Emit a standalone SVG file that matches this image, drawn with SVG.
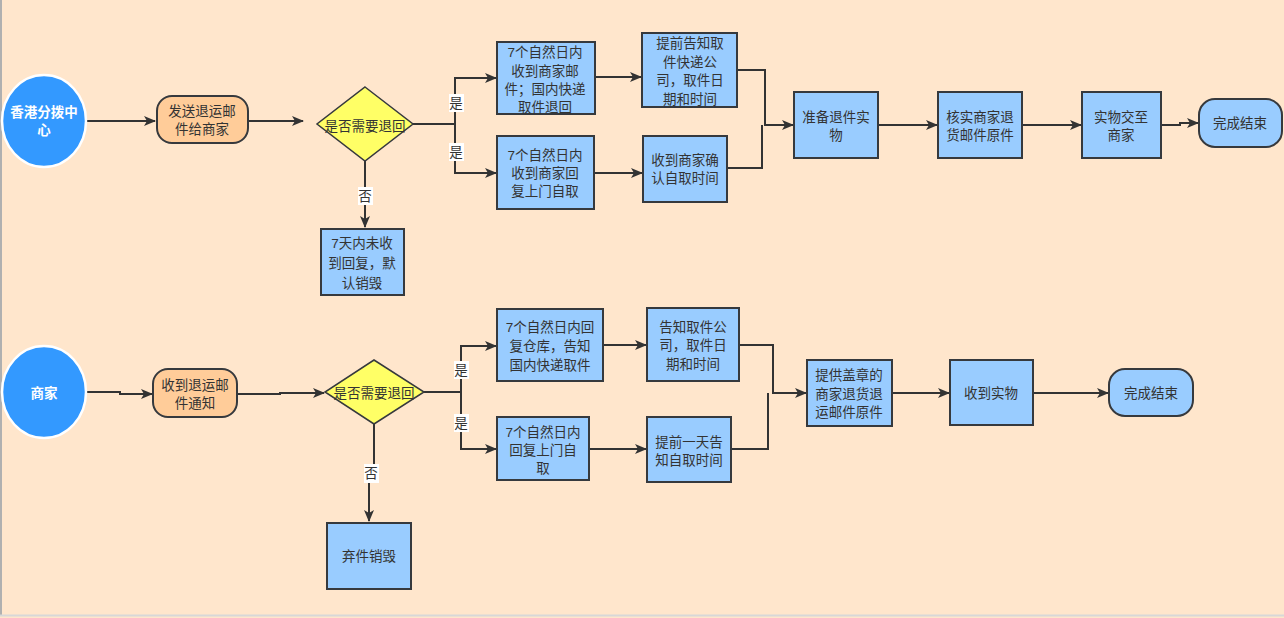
<svg xmlns="http://www.w3.org/2000/svg" width="1284" height="618" viewBox="0 0 1284 618">
<style>
.bg{fill:#FFE6CC}
.box{fill:#99CCFF;stroke:#36393D;stroke-width:2}
.term{fill:#99CCFF;stroke:#36393D;stroke-width:2}
.start{fill:#FFCC99;stroke:#36393D;stroke-width:2}
.dia{fill:#FFFF66;stroke:#36393D;stroke-width:1.5}
.circ{fill:#3399FF;stroke:#FFFFFF;stroke-width:2.5}
.edge{fill:none;stroke:#333333;stroke-width:2}
.lbl{fill:#FFFFFF}
text{font-family:"Liberation Sans","Noto Sans CJK SC",sans-serif;font-size:13.5px;fill:#333333;text-anchor:middle;dominant-baseline:central}
.wt{fill:#FFFFFF;font-weight:bold}
</style>
<defs>
<marker id="arr" markerWidth="12" markerHeight="10" refX="11" refY="5" orient="auto" markerUnits="userSpaceOnUse">
<path d="M0,0 L12,5 L0,10 L3,5 Z" fill="#333333"/>
</marker>
</defs>
<rect class="bg" x="0" y="0" width="1284" height="618"/>
<line x1="1" y1="0" x2="1" y2="616" stroke="#B0B0B0" stroke-width="2"/>
<line x1="0" y1="615.5" x2="1284" y2="615.5" stroke="#D8D8D8" stroke-width="2"/>

<g id="connectors">
<path class="edge" d="M86,121 H155" marker-end="url(#arr)"/>
<path class="edge" d="M248,121 H303" marker-end="url(#arr)"/>
<path class="edge" d="M413,124 H455 V78 H496" marker-end="url(#arr)"/>
<path class="edge" d="M455,124 V173 H496" marker-end="url(#arr)"/>
<path class="edge" d="M365,161 V227" marker-end="url(#arr)"/>
<path class="edge" d="M595,77 H641" marker-end="url(#arr)"/>
<path class="edge" d="M594,173 H642" marker-end="url(#arr)"/>
<path class="edge" d="M737,70 H765 V125 H793" marker-end="url(#arr)"/>
<path class="edge" d="M727,168 H762 V125"/>
<path class="edge" d="M878,125 H937" marker-end="url(#arr)"/>
<path class="edge" d="M1022,125 H1081" marker-end="url(#arr)"/>
<path class="edge" d="M1161,125 H1180 V123 H1198" marker-end="url(#arr)"/>

<path class="edge" d="M86,392 H120 V394 H152" marker-end="url(#arr)"/>
<path class="edge" d="M237,394 H280 V393 H324" marker-end="url(#arr)"/>
<path class="edge" d="M424,392 H461 V346 H496" marker-end="url(#arr)"/>
<path class="edge" d="M461,392 V449 H496" marker-end="url(#arr)"/>
<path class="edge" d="M374,424 V470 H369 V521" marker-end="url(#arr)"/>
<path class="edge" d="M603,345 H646" marker-end="url(#arr)"/>
<path class="edge" d="M589,449 H646" marker-end="url(#arr)"/>
<path class="edge" d="M739,345 H773 V393 H806" marker-end="url(#arr)"/>
<path class="edge" d="M731,449 H768 V393"/>
<path class="edge" d="M892,393 H949" marker-end="url(#arr)"/>
<path class="edge" d="M1033,393 H1108" marker-end="url(#arr)"/>

<rect class="lbl" x="449" y="94" width="15" height="18"/>
<text x="456" y="103">是</text>
<rect class="lbl" x="449" y="143" width="15" height="18"/>
<text x="456" y="152">是</text>
<rect class="lbl" x="358" y="187" width="15" height="18"/>
<text x="365" y="196">否</text>
<rect class="lbl" x="454" y="361" width="15" height="18"/>
<text x="461" y="370">是</text>
<rect class="lbl" x="454" y="414" width="15" height="18"/>
<text x="461" y="423">是</text>
<rect class="lbl" x="364" y="464" width="15" height="19"/>
<text x="371" y="473">否</text>
</g>

<g id="n-hk">
<ellipse class="circ" cx="44" cy="121" rx="42" ry="46"/>
<text class="wt" x="44" y="112">香港分拨中</text>
<text class="wt" x="44" y="130">心</text>
</g>
<g id="n-send">
<rect class="start" x="157" y="96" width="91" height="47" rx="15"/>
<text x="202" y="111">发送退运邮</text>
<text x="202" y="129">件给商家</text>
</g>
<g id="n-dec1">
<polygon class="dia" points="365,87 413,124 365,161 317,124"/>
<text x="365" y="126">是否需要退回</text>
</g>
<g id="n-t1">
<rect class="box" x="497" y="42" width="98" height="72"/>
<text x="545" y="52">7个自然日内</text>
<text x="545" y="71">收到商家邮</text>
<text x="545" y="89">件；国内快递</text>
<text x="545" y="107">取件退回</text>
</g>
<g id="n-t2">
<rect class="box" x="497" y="136" width="97" height="73"/>
<text x="545" y="155">7个自然日内</text>
<text x="545" y="173">收到商家回</text>
<text x="545" y="191">复上门自取</text>
</g>
<g id="n-t3">
<rect class="box" x="642" y="33" width="95" height="74"/>
<text x="690" y="43">提前告知取</text>
<text x="690" y="62">件快递公</text>
<text x="690" y="80">司，取件日</text>
<text x="690" y="99">期和时间</text>
</g>
<g id="n-t4">
<rect class="box" x="643" y="136" width="84" height="66"/>
<text x="685" y="160">收到商家确</text>
<text x="685" y="178">认自取时间</text>
</g>
<g id="n-t5">
<rect class="box" x="794" y="92" width="84" height="66"/>
<text x="836" y="117">准备退件实</text>
<text x="836" y="135">物</text>
</g>
<g id="n-t6">
<rect class="box" x="938" y="92" width="84" height="66"/>
<text x="980" y="117">核实商家退</text>
<text x="980" y="135">货邮件原件</text>
</g>
<g id="n-t7">
<rect class="box" x="1082" y="92" width="79" height="66"/>
<text x="1121" y="117">实物交至</text>
<text x="1121" y="135">商家</text>
</g>
<g id="n-end1">
<rect class="term" x="1199" y="99" width="83" height="48" rx="16"/>
<text x="1240" y="123">完成结束</text>
</g>
<g id="n-no1">
<rect class="box" x="321" y="229" width="83" height="66"/>
<text x="362" y="243">7天内未收</text>
<text x="362" y="263">到回复，默</text>
<text x="362" y="283">认销毁</text>
</g>

<g id="n-merchant">
<ellipse class="circ" cx="44" cy="392" rx="42" ry="46"/>
<text class="wt" x="44" y="393">商家</text>
</g>
<g id="n-recv">
<rect class="start" x="153" y="369" width="84" height="48" rx="15"/>
<text x="195" y="385">收到退运邮</text>
<text x="195" y="403">件通知</text>
</g>
<g id="n-dec2">
<polygon class="dia" points="374,360 424,392 374,424 325,392"/>
<text x="374" y="393">是否需要退回</text>
</g>
<g id="n-b1">
<rect class="box" x="497" y="309" width="106" height="72"/>
<text x="550" y="327">7个自然日内回</text>
<text x="550" y="346">复仓库，告知</text>
<text x="550" y="365">国内快递取件</text>
</g>
<g id="n-b2">
<rect class="box" x="497" y="417" width="92" height="63"/>
<text x="543" y="432">7个自然日内</text>
<text x="543" y="450">回复上门自</text>
<text x="543" y="468">取</text>
</g>
<g id="n-b3">
<rect class="box" x="647" y="308" width="92" height="73"/>
<text x="693" y="327">告知取件公</text>
<text x="693" y="345">司，取件日</text>
<text x="693" y="364">期和时间</text>
</g>
<g id="n-b4">
<rect class="box" x="647" y="417" width="84" height="65"/>
<text x="689" y="442">提前一天告</text>
<text x="689" y="460">知自取时间</text>
</g>
<g id="n-b5">
<rect class="box" x="807" y="360" width="85" height="66"/>
<text x="849" y="375">提供盖章的</text>
<text x="849" y="394">商家退货退</text>
<text x="849" y="412">运邮件原件</text>
</g>
<g id="n-b6">
<rect class="box" x="950" y="360" width="83" height="65"/>
<text x="991" y="393">收到实物</text>
</g>
<g id="n-end2">
<rect class="term" x="1109" y="369" width="84" height="47" rx="16"/>
<text x="1151" y="393">完成结束</text>
</g>
<g id="n-no2">
<rect class="box" x="327" y="523" width="84" height="66"/>
<text x="369" y="556">弃件销毁</text>
</g>
</svg>
